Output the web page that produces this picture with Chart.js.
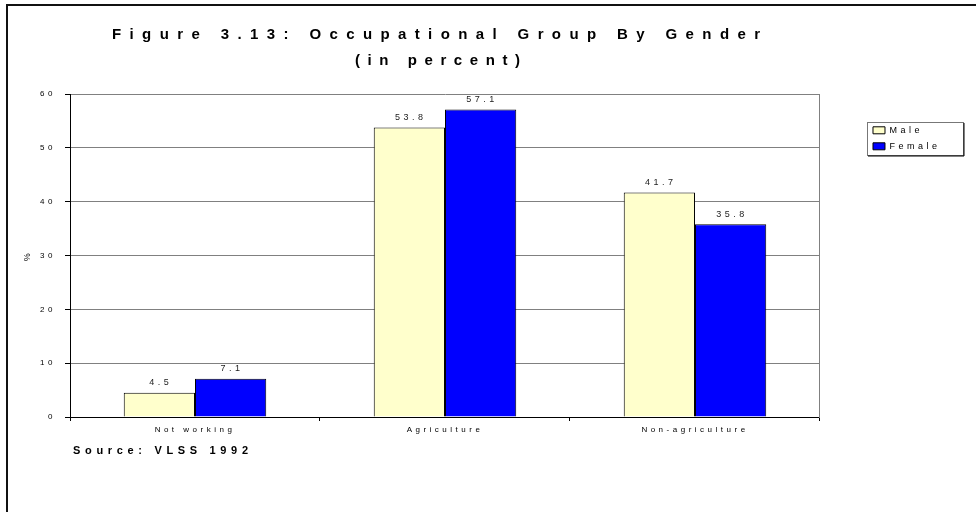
<!DOCTYPE html>
<html>
<head>
<meta charset="utf-8">
<script src="https://cdn.jsdelivr.net/npm/chart.js@4.4.1/dist/chart.umd.min.js"></script>
<style>
  body { margin: 0; background: #fff; }
  #wrap { width: 976px; height: 512px; position: relative; }
</style>
</head>
<body>
<div id="wrap"><canvas id="chart" width="976" height="512"></canvas></div>
<script>
// chart values
const categories = ["Not working", "Agriculture", "Non-agriculture"];
const seriesNames = ["Male", "Female"];
const maleValues = [4.5, 53.8, 41.7];
const femaleValues = [7.1, 57.1, 35.8];
const yTickValues = [0, 10, 20, 30, 40, 50, 60];

const titleLines = ["Figure 3.13: Occupational Group By Gender", "(in percent)"];
const sourceText = "Source: VLSS 1992";

const FONT = "'Liberation Sans', Arial, sans-serif";

// draws text stretched between x0 and x1 using letter spacing
function spacedText(ctx, text, x0, x1, y, font) {
  ctx.save();
  ctx.font = font;
  ctx.letterSpacing = "0px";
  const w = ctx.measureText(text).width;
  const sp = (x1 - x0 - w) / (text.length - 1);
  ctx.letterSpacing = sp + "px";
  ctx.fillStyle = "#000";
  ctx.textAlign = "left";
  ctx.textBaseline = "middle";
  ctx.fillText(text, x0, y);
  ctx.restore();
}

const spacing = {
  id: "spacing",
  beforeUpdate(chart) {
    chart.ctx.letterSpacing = "3.5px";
  },
  beforeDraw(chart) {
    const ctx = chart.ctx;
    ctx.letterSpacing = "3.5px";
    // outer frame (left and top only are visible)
    ctx.save();
    ctx.fillStyle = "#111";
    ctx.fillRect(6, 4, 976, 2);
    ctx.fillRect(6, 4, 2, 512);
    ctx.restore();
  },
  afterDatasetsDraw(chart) {
    const ctx = chart.ctx;
    ctx.save();
    ctx.font = "9px " + FONT;
    ctx.letterSpacing = "3.5px";
    ctx.fillStyle = "#222";
    ctx.textAlign = "center";
    ctx.textBaseline = "middle";
    chart.data.datasets.forEach((ds, i) => {
      chart.getDatasetMeta(i).data.forEach((bar, j) => {
        ctx.fillText(ds.data[j].toFixed(1), bar.x + 1.5, bar.y - 10);
      });
    });
    ctx.restore();
  },
  afterDraw(chart) {
    const ctx = chart.ctx;
    spacedText(ctx, titleLines[0], 112, 760, 35, "bold 15px " + FONT);
    spacedText(ctx, titleLines[1], 355, 520, 61, "bold 15px " + FONT);
    spacedText(ctx, sourceText, 73, 248, 451, "bold 11px " + FONT);

    // frame round the legend
    const boxes = chart.legend.legendHitBoxes;
    if (boxes && boxes.length) {
      const l = boxes[0].left - 6;
      const t = boxes[0].top - 4;
      const b = boxes[boxes.length - 1].top + boxes[boxes.length - 1].height + 4;
      const r = 963;
      ctx.save();
      ctx.strokeStyle = "#777";
      ctx.lineWidth = 1;
      ctx.strokeRect(Math.round(l) + 0.5, Math.round(t) + 0.5, Math.round(r - l), Math.round(b - t));
      ctx.strokeStyle = "#000";
      ctx.beginPath();
      ctx.moveTo(Math.round(r) + 1, Math.round(t) + 1);
      ctx.lineTo(Math.round(r) + 1, Math.round(b) + 1);
      ctx.lineTo(Math.round(l) + 1, Math.round(b) + 1);
      ctx.stroke();
      ctx.restore();
    }
  }
};

Chart.defaults.font.family = FONT;
Chart.defaults.color = "#111";

const ctx = document.getElementById("chart");
new Chart(ctx, {
  type: "bar",
  data: {
    labels: categories,
    datasets: [
      {
        label: seriesNames[0],
        data: maleValues,
        backgroundColor: "#FFFFCC",
        borderColor: "#000",
        borderWidth: 1,
        categoryPercentage: 0.57,
        barPercentage: 1.0,
      },
      {
        label: seriesNames[1],
        data: femaleValues,
        backgroundColor: "#0000FF",
        borderColor: "#000",
        borderWidth: 1,
        categoryPercentage: 0.57,
        barPercentage: 1.0,
      },
    ],
  },
  options: {
    responsive: false,
    animation: false,
    events: [],
    layout: { padding: { top: 94, left: 0, right: 25.5, bottom: 75 } },
    plugins: {
      title: { display: false },
      tooltip: { enabled: false },
      legend: {
        position: "right",
        align: "start",
        title: { display: true, text: "", font: { size: 9 }, padding: { top: 14, bottom: 0 } },
        labels: {
          boxWidth: 12,
          boxHeight: 7,
          padding: 7,
          color: "#000",
          font: { size: 9 },
        },
      },
    },
    scales: {
      x: {
        grid: {
          display: true,
          drawOnChartArea: false,
          drawTicks: true,
          offset: true,
          tickLength: 4,
          tickColor: "#000",
        },
        border: { display: true, color: "#000" },
        ticks: { font: { size: 8 }, color: "#000", padding: 3.5 },
        afterFit: (s) => { s.height = 20; },
      },
      y: {
        min: yTickValues[0],
        max: yTickValues[yTickValues.length - 1],
        afterBuildTicks: (s) => { s.ticks = yTickValues.map((v) => ({ value: v })); },
        grid: { color: "#808080", tickColor: "#000", tickLength: 5 },
        border: { display: true, color: "#000" },
        ticks: { font: { size: 8 }, color: "#000", padding: 9 },
        title: { display: true, text: "%", font: { size: 9 }, color: "#000", padding: { top: 22, bottom: 0 } },
        afterFit: (s) => { s.width = 70; },
      },
      y2: {
        position: "right",
        grid: { display: false },
        border: { display: true, color: "#808080" },
        ticks: { display: false },
        afterFit: (s) => { s.width = 46; },
      },
    },
  },
  plugins: [spacing],
});
</script>
</body>
</html>
